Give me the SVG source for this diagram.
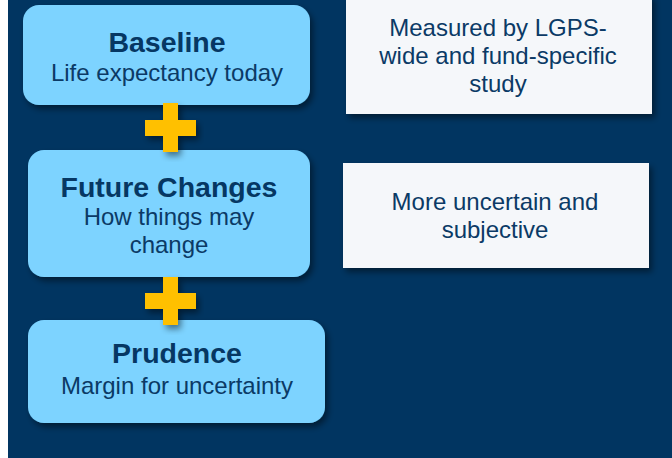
<svg xmlns="http://www.w3.org/2000/svg" width="672" height="458" viewBox="0 0 672 458">
<defs>
<filter id="sh" x="-10%" y="-10%" width="125%" height="130%">
<feDropShadow dx="3" dy="4" stdDeviation="3" flood-color="#000" flood-opacity="0.45"/>
</filter>
<style>
.node{fill:#7dd3ff;filter:url(#sh)}
.note{fill:#f5f7fa;filter:url(#sh)}
.t{font-family:"Liberation Sans",Arial,sans-serif;fill:#0b3a66;text-anchor:middle}
.b{font-weight:bold;font-size:28.5px;fill:#063763}
.r{font-size:24px}
.plus{fill:#ffc000;filter:url(#sh)}
</style>
</defs>
<rect x="0" y="0" width="672" height="458" fill="#ffffff"/>
<rect x="8" y="0" width="664" height="458" fill="#013561"/>
<g id="note1">
<rect class="note" x="346" y="-5" width="306" height="119"/>
<text class="t r" x="498" y="36">Measured by LGPS-</text>
<text class="t r" x="498" y="64">wide and fund-specific</text>
<text class="t r" x="498" y="92">study</text>
</g>
<g id="note2">
<rect class="note" x="343" y="163" width="306" height="105"/>
<text class="t r" x="495" y="210">More uncertain and</text>
<text class="t r" x="495" y="238">subjective</text>
</g>
<g id="baseline">
<rect class="node" x="23" y="5" width="287" height="100" rx="16"/>
<text class="t b" x="167" y="52">Baseline</text>
<text class="t r" x="167" y="81">Life expectancy today</text>
</g>
<g id="future">
<rect class="node" x="28" y="150" width="282" height="127" rx="16"/>
<text class="t b" x="169" y="197">Future Changes</text>
<text class="t r" x="169" y="225">How things may</text>
<text class="t r" x="169" y="253">change</text>
</g>
<g id="prudence">
<rect class="node" x="28" y="320" width="297" height="103" rx="16"/>
<text class="t b" x="177" y="363">Prudence</text>
<text class="t r" x="177" y="394">Margin for uncertainty</text>
</g>
<g id="connectors">
<path class="plus" d="M163,103 H178 V120 H196 V136 H178 V152 H163 V136 H145 V120 H163 Z"/>
<path class="plus" d="M163,277 H178 V293 H196 V309 H178 V325 H163 V309 H145 V293 H163 Z"/>
</g>
</svg>
